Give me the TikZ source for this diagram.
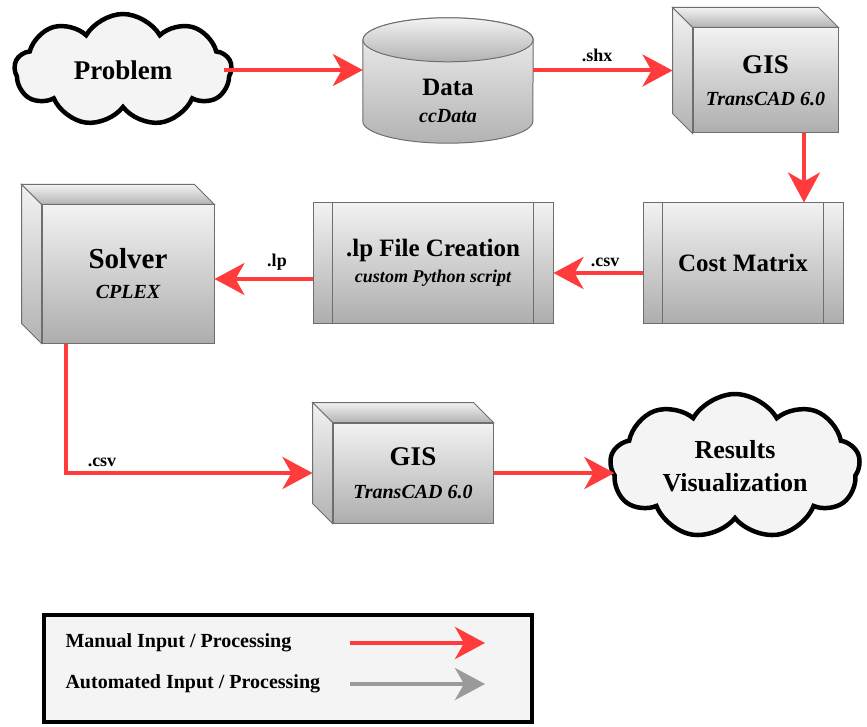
\documentclass[tikz,border=0pt]{standalone}
\usepackage{fontspec}
\setmainfont{Liberation Serif}
\usetikzlibrary{shapes.symbols,arrows.meta,calc}
\definecolor{arrowred}{HTML}{FF3B3B}
\definecolor{arrowgray}{HTML}{9A9A9A}
\definecolor{paper}{HTML}{F4F4F4}
\definecolor{boxline}{HTML}{6E6E6E}
\tikzset{
    box/.style ={
        rectangle,              % front face
        draw = boxline,         % border colour
        line width = 1pt,
        top color = black!5,    % gradient top
        bottom color = black!32,% gradient bottom
        inner sep = 0pt,
        align = center
    },
    side/.style ={
        draw = boxline,
        line width = 1pt,
        top color = black!5,
        bottom color = black!30
    },
    bubble/.style ={
        cloud,                  % cloud shape
        cloud puffs = 9,
        cloud puff arc = 120,
        aspect = 2,
        draw = black,
        line width = 4.5pt,
        fill = paper,
        inner sep = 0pt,
        align = center
    },
    manual/.style ={
        draw = arrowred,
        line width = 4pt,
        -{Stealth[length=30pt,width=32pt,inset=9pt]}
    },
    automated/.style ={
        draw = arrowgray,
        line width = 4pt,
        -{Stealth[length=30pt,width=32pt,inset=9pt]}
    },
    tag/.style ={
        font = \bfseries\fontsize{18}{20}\selectfont
    }
}

\begin{document}
\begin{tikzpicture}[x=1pt,y=1pt]
    \useasboundingbox (0,0) rectangle (867,-727);
    % clouds
    \node[bubble, minimum width=217pt, minimum height=112pt, font=\bfseries\fontsize{27}{29}\selectfont] (problem) at (123,-70) {Problem};
    \node[bubble, minimum width=250pt, minimum height=145pt, font=\bfseries\fontsize{26}{33}\selectfont] (results) at (735,-466.5) {Results\\Visualization};
    % database
    \node[minimum width=170pt, minimum height=125pt, inner sep=0pt] (data) at (448,-80.5) {};
    \path[side] ($(data.north west)+(0,-22)$) -- ($(data.south west)+(0,22)$)
        arc[start angle=180, end angle=360, x radius=85pt, y radius=22pt]
        -- ($(data.north east)+(0,-22)$)
        arc[start angle=0, end angle=180, x radius=85pt, y radius=22pt] -- cycle;
    \path[side] ($(data.north)+(0,-22)$) ellipse[x radius=85pt, y radius=22pt];
    \node[align=center, font=\bfseries\fontsize{20}{27}\selectfont] (datatxt) at (448,-101)
        {{\fontsize{25}{27}\selectfont Data}\\\itshape ccData};
    % boxes
    \node[box, minimum width=145pt, minimum height=105pt, font=\bfseries\fontsize{20}{32}\selectfont] (gisA) at (765.5,-80.5)
        {{\fontsize{27}{32}\selectfont GIS}\\\itshape TransCAD 6.0};
    \node[box, minimum width=172pt, minimum height=138pt, font=\bfseries\fontsize{20}{30}\selectfont] (solver) at (128,-274)
        {{\fontsize{29}{30}\selectfont Solver}\\\itshape CPLEX};
    \node[box, minimum width=160pt, minimum height=100pt, font=\bfseries\fontsize{20}{33}\selectfont] (gisB) at (413,-473)
        {{\fontsize{27}{33}\selectfont GIS}\\\itshape TransCAD 6.0};
    \node[box, minimum width=200pt, minimum height=120pt, font=\bfseries\fontsize{25}{27}\selectfont] (cost) at (743,-263)
        {Cost Matrix};
    \node[box, minimum width=240pt, minimum height=120pt, font=\bfseries\fontsize{18}{26}\selectfont] (lpfile) at (433,-263)
        {{\fontsize{25}{26}\selectfont .lp File Creation}\\\itshape custom Python script};
    \foreach \n in {gisA,solver,gisB}{
        \path[side] (\n.north west) -- ++(-20,20) -- ($(\n.north east)+(-20,20)$) -- (\n.north east) -- cycle;
        \path[side] (\n.north west) -- ++(-20,20) -- ($(\n.south west)+(-20,20)$) -- (\n.south west) -- cycle;
    }
    \foreach \n in {cost,lpfile}{
        \draw[boxline, line width=1pt] ($(\n.north west)+(20,0)$) -- ($(\n.south west)+(20,0)$);
        \draw[boxline, line width=1pt] ($(\n.north east)+(-20,0)$) -- ($(\n.south east)+(-20,0)$);
    }
    % arrows
    \coordinate (gisout) at ([xshift=38.5]gisA.south);
    \coordinate (solverout) at ([xshift=-62]solver.south);
    \draw[manual] ([xshift=-10]problem.east) -- (problem.east -| data.west);
    \draw[manual] ([yshift=10]data.east) -- ([shift={(-20,10)}]gisA.west);
    \draw[manual] (gisout) -- (gisout |- cost.north);
    \draw[manual] ([yshift=-10]cost.west) -- ([yshift=-10]lpfile.east);
    \draw[manual] ([yshift=-16]lpfile.west) -- ([yshift=-5]solver.east);
    \draw[manual] (solverout) |- ([xshift=-20]gisB.west);
    \draw[manual] (gisB.east) -- ([xshift=6]gisB.east -| results.west);
    \node[tag] (shx) at (597,-55) {.shx};
    \node[tag] (csvA) at (605,-262) {.csv};
    \node[tag] (lp) at (277,-262) {.lp};
    \node[tag] (csvB) at (102,-462) {.csv};
    % legend
    \node[draw, line width=4pt, fill=paper, minimum width=488pt, minimum height=107pt] (legend) at (288,-668.5) {};
    \node[tag, anchor=west, font=\bfseries\fontsize{20}{21}\selectfont] (manualtxt) at (62,-643) {Manual Input / Processing};
    \node[tag, anchor=west, font=\bfseries\fontsize{20}{21}\selectfont] (autotxt) at (62,-684) {Automated Input / Processing};
    \coordinate (mA) at (350,-643);
    \coordinate (mB) at (485,-643);
    \coordinate (aA) at (350,-684);
    \coordinate (aB) at (485,-684);
    \draw[manual] (mA) -- (mB);
    \draw[automated] (aA) -- (aB);
\end{tikzpicture}
\end{document}
